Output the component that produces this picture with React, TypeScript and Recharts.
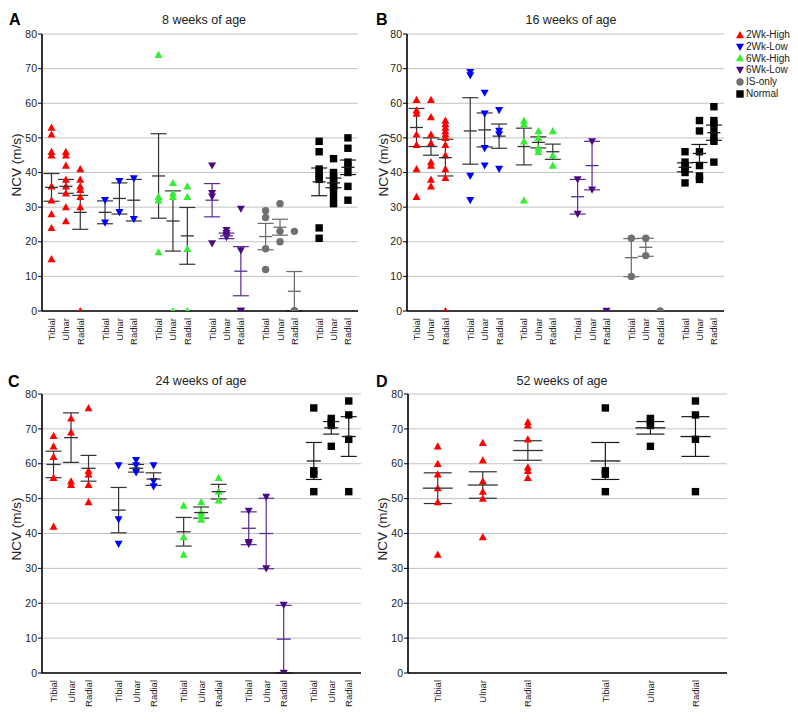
import React from 'react';
import { ScatterChart, Scatter, XAxis, YAxis, CartesianGrid, ErrorBar } from 'recharts';

const GROUPS = ['2Wk-High', '2Wk-Low', '6Wk-High', '6Wk-Low', 'IS-only', 'Normal'];
const NERVES = ['Tibial', 'Ulnar', 'Radial'];
const Y_TICKS = [0, 10, 20, 30, 40, 50, 60, 70, 80];

// point colour per group, and the colour of its mean / SEM bars
const COLORS = ['#ff0000', '#0000ff', '#33ee33', '#4b0a82', '#707070', '#000000'];
const BAR_COLORS = ['#333333', '#333333', '#333333', '#5a2a96', '#6a6a6a', '#1a1a1a'];

// ---- 8 weeks (A): values per nerve [Tibial, Ulnar, Radial]
const w8_2WkHigh = [[53, 51, 46, 45, 36, 32, 28, 24, 15], [46, 45, 42, 38, 36, 34, 30, 26], [41, 38, 36, 35, 33, 30, 0]];
const w8_2WkLow = [[32, 25.5], [37.5, 28.5], [38.3, 26.5]];
const w8_6WkHigh = [[74, 33, 32, 17], [37, 34, 33, 0], [36, 33, 18, 0]];
const w8_6WkLow = [[42, 34, 33, 19.5], [23.3, 22.5, 22, 21.3], [29.5, 17.5, 0, 0]];
const w8_ISonly = [[29, 27, 18, 12], [31, 23, 20], [23, 0, 0, 0]];
const w8_Normal = [[49, 46, 41, 40, 39, 38, 24, 21], [44, 40, 39, 38, 37, 36, 35, 33, 31], [50, 47, 43, 42, 40, 36, 32]];
const w8Means = [[35.7, 36, 28.5], [28.5, 32.5, 32], [39, 26, 21.7], [32, 21.7, 11.5], [21.5, 24.2, 5.7], [37.3, 37, 41.5]];
const w8Sems = [[4, 2, 4.9], [3.3, 4.5, 6], [12.2, 8.7, 8.2], [4.8, 0.8, 7.1], [3.8, 2.3, 5.7], [4, 1.4, 2.1]];

// ---- 16 weeks (B)
const w16_2WkHigh = [[61, 58, 57, 51, 48, 41, 33], [61, 56, 51, 48.5, 43, 42, 38, 36], [55, 54, 53, 52, 51, 50, 48, 45, 41, 38.5, 0]];
const w16_2WkLow = [[69, 68, 39, 32], [63, 57, 47, 42], [58, 52, 51, 41]];
const w16_6WkHigh = [[55, 54, 49, 32], [52, 50, 47, 46], [52, 45, 42]];
const w16_6WkLow = [[38, 28], [49, 35], [0]];
const w16_ISonly = [[21, 10], [21, 16], [0]];
const w16_Normal = [[46, 43, 42, 41, 40, 37], [55, 52, 46, 42, 39, 38], [59, 55, 54, 52, 50, 49, 43]];
const w16Means = [[53, 47.5, 44.3], [52, 52.3, 50.5], [47.5, 48.7, 46], [33, 42, null], [15.4, 18.4, null], [41.5, 45.5, 51.5]];
const w16Sems = [[5.5, 2.5, 5.3], [9.6, 4.9, 3.5], [5.3, 1.6, 2.2], [5, 7, null], [5.5, 2.6, null], [1.3, 2.6, 2.2]];

// ---- 24 weeks (C)
const w24_2WkHigh = [[68, 65, 62, 56, 42], [73, 69, 55, 54], [76, 58, 57, 54, 49]];
const w24_2WkLow = [[59.5, 44, 37], [61, 59.5, 58, 57.5], [59.5, 55, 53.5]];
const w24_6WkHigh = [[48, 39, 34], [49, 46, 45, 44], [56, 52, 49.5]];
const w24_6WkLow = [[46.5, 37.5, 37], [50.5, 30], [19.5, 0]];
const w24_Normal = [[76, 58, 57, 52], [73, 72, 71, 65], [78, 74, 67, 52]];
const w24Means = [[59.8, 67.5, 58.7], [46.7, 58.7, 55.6], [40.5, 46, 52], [41.5, 40, 9.7], [60.8, 70.3, 67.8]];
const w24Sems = [[3.8, 7.1, 3.7], [6.5, 1.1, 1.8], [4.1, 1.6, 2.1], [4.7, 10.1, 9.7], [5.3, 1.8, 5.7]];

// ---- 52 weeks (D)
const w52_2WkHigh = [[65, 60, 57, 53, 49, 34], [66, 61, 55, 52, 50, 39], [72, 71, 67, 59, 58, 56]];
const w52_Normal = [[76, 58, 57, 52], [73, 72, 71, 65], [78, 74, 67, 52]];
const w52Means = [[53, 53.9, 63.8], [60.8, 70.3, 67.8]];
const w52Sems = [[4.4, 3.8, 2.8], [5.3, 1.8, 5.7]];

const STEP = 3.72; // distance between group blocks, in nerve-slot units
const FONT = '"Liberation Sans", Arial, Helvetica, sans-serif';

function makeShape(g: number) {
  const color = COLORS[g];
  return (p: any) => {
    const { cx, cy } = p;
    if (cx == null || cy == null) return <g />;
    if (g === 4) return <circle cx={cx} cy={cy} r={3.7} fill={color} />;
    if (g === 5) return <rect x={cx - 3.7} y={cy - 3.7} width={7.4} height={7.4} fill={color} />;
    const s = 4;
    const up = g === 0 || g === 2;
    const pts = up
      ? `${cx},${cy - s} ${cx + s},${cy + s * 0.8} ${cx - s},${cy + s * 0.8}`
      : `${cx},${cy + s} ${cx + s},${cy - s * 0.8} ${cx - s},${cy - s * 0.8}`;
    return <polygon points={pts} fill={color} />;
  };
}

function meanShape(w: number, color: string) {
  return (p: any) => {
    const { cx, cy } = p;
    if (cx == null || cy == null) return <g />;
    return <line x1={cx - w / 2} x2={cx + w / 2} y1={cy} y2={cy} stroke={color} strokeWidth={1.3} />;
  };
}

function NerveTick(props: any) {
  const { x, y, payload } = props;
  const v = Number(payload.value);
  const k = Math.floor((v + 0.5) / STEP);
  const j = Math.round(v - k * STEP);
  return (
    <text
      x={x}
      y={y}
      transform={`rotate(-90 ${x} ${y})`}
      textAnchor="end"
      dominantBaseline="central"
      fontSize={9.5}
      fontFamily={FONT}
      fill="#222"
    >
      {NERVES[j]}
    </text>
  );
}

interface PanelProps {
  slots: number[];
  points: number[][][];
  means: (number | null)[][];
  sems: (number | null)[][];
  width: number;
  height: number;
  right: number;
  axisH: number;
  meanW: number;
  capW: number;
}

function Panel({ slots, points, means, sems, width, height, right, axisH, meanW, capW }: PanelProps) {
  const last = (slots.length - 1) * STEP + 2;
  const ticks = slots.flatMap((_, k) => NERVES.map((__, j) => k * STEP + j));
  return (
    <ScatterChart width={width} height={height} margin={{ top: 34, right, left: 12, bottom: 0 }}>
      <CartesianGrid vertical={false} stroke="#c2c2c2" />
      <XAxis
        type="number"
        dataKey="x"
        domain={[-0.66, last + 0.7]}
        ticks={ticks}
        interval={0}
        allowDataOverflow
        tick={(p: any) => <NerveTick {...p} />}
        tickLine={false}
        tickSize={0}
        tickMargin={7}
        axisLine={{ stroke: '#000', strokeWidth: 1.6 }}
        height={axisH}
      />
      <YAxis
        type="number"
        dataKey="y"
        domain={[0, 80]}
        ticks={Y_TICKS}
        interval={0}
        allowDataOverflow
        width={30}
        tickSize={4}
        tickMargin={1}
        tick={{ fontSize: 10.5, fill: '#222', fontFamily: FONT }}
        tickLine={{ stroke: '#000' }}
        axisLine={{ stroke: '#000', strokeWidth: 1.6 }}
      />
      {slots.map((g, k) => (
        <Scatter
          key={'pts' + g}
          data={points[k].flatMap((vals, j) => vals.map((v) => ({ x: k * STEP + j, y: v })))}
          shape={makeShape(g)}
          isAnimationActive={false}
        />
      ))}
      {slots.map((g, k) => {
        const summary = NERVES.map((_, j) => ({ x: k * STEP + j, y: means[k][j], sem: sems[k][j] })).filter(
          (d) => d.y != null
        );
        return (
          <Scatter key={'sum' + g} data={summary} shape={meanShape(meanW, BAR_COLORS[g])} isAnimationActive={false}>
            <ErrorBar dataKey="sem" direction="y" width={capW} stroke={BAR_COLORS[g]} strokeWidth={1.2} />
          </Scatter>
        );
      })}
    </ScatterChart>
  );
}

const abs = (left: number, top: number): React.CSSProperties => ({ position: 'absolute', left, top });

function Title({ x, y, text }: { x: number; y: number; text: string }) {
  return (
    <div style={{ ...abs(x, y), transform: 'translate(-50%, -50%)', fontSize: 12.5, color: '#222', whiteSpace: 'nowrap' }}>
      {text}
    </div>
  );
}

function Letter({ x, y, text }: { x: number; y: number; text: string }) {
  return <div style={{ ...abs(x, y), fontSize: 16, fontWeight: 'bold', color: '#000', lineHeight: '16px' }}>{text}</div>;
}

function YLabel({ x, y }: { x: number; y: number }) {
  return (
    <div
      style={{
        ...abs(x, y),
        transform: 'translate(-50%, -50%) rotate(-90deg)',
        fontSize: 13.5,
        color: '#222',
        whiteSpace: 'nowrap',
      }}
    >
      NCV (m/s)
    </div>
  );
}

function LegendMark({ g }: { g: number }) {
  const shape = makeShape(g);
  return (
    <svg width={10} height={10} style={{ display: 'block' }}>
      {shape({ cx: 5, cy: 5 })}
    </svg>
  );
}

export default function App() {
  return (
    <div style={{ position: 'absolute', left: 0, top: 0, width: 798, height: 723, background: '#fff', fontFamily: FONT }}>
      <div style={abs(0, 0)}>
        <Panel
          slots={[0, 1, 2, 3, 4, 5]}
          points={[w8_2WkHigh, w8_2WkLow, w8_6WkHigh, w8_6WkLow, w8_ISonly, w8_Normal]}
          means={w8Means}
          sems={w8Sems}
          width={400}
          height={360}
          right={42}
          axisH={49}
          meanW={13}
          capW={8}
        />
      </div>
      <div style={abs(365, 0)}>
        <Panel
          slots={[0, 1, 2, 3, 4, 5]}
          points={[w16_2WkHigh, w16_2WkLow, w16_6WkHigh, w16_6WkLow, w16_ISonly, w16_Normal]}
          means={w16Means}
          sems={w16Sems}
          width={433}
          height={360}
          right={74}
          axisH={49}
          meanW={13}
          capW={8}
        />
      </div>
      <div style={abs(0, 360)}>
        <Panel
          slots={[0, 1, 2, 3, 5]}
          points={[w24_2WkHigh, w24_2WkLow, w24_6WkHigh, w24_6WkLow, w24_Normal]}
          means={w24Means}
          sems={w24Sems}
          width={400}
          height={363}
          right={39}
          axisH={50}
          meanW={14}
          capW={8}
        />
      </div>
      <div style={abs(366, 360)}>
        <Panel
          slots={[0, 5]}
          points={[w52_2WkHigh, w52_Normal]}
          means={w52Means}
          sems={w52Sems}
          width={432}
          height={363}
          right={71}
          axisH={50}
          meanW={30}
          capW={14}
        />
      </div>

      <Letter x={9} y={12} text="A" />
      <Letter x={376} y={12} text="B" />
      <Letter x={8} y={374} text="C" />
      <Letter x={376} y={374} text="D" />

      <Title x={204} y={20} text="8 weeks of age" />
      <Title x={571} y={20} text="16 weeks of age" />
      <Title x={201} y={381} text="24 weeks of age" />
      <Title x={562} y={381} text="52 weeks of age" />

      <YLabel x={16} y={165} />
      <YLabel x={383} y={165} />
      <YLabel x={16} y={529} />
      <YLabel x={382} y={529} />

      <div style={{ ...abs(735, 29) }}>
        {GROUPS.map((name, g) => (
          <div key={name} style={{ display: 'flex', alignItems: 'center', height: 11.8, fontSize: 10, color: '#222' }}>
            <LegendMark g={g} />
            <span style={{ marginLeft: 1, lineHeight: '11.8px' }}>{name}</span>
          </div>
        ))}
      </div>
    </div>
  );
}
